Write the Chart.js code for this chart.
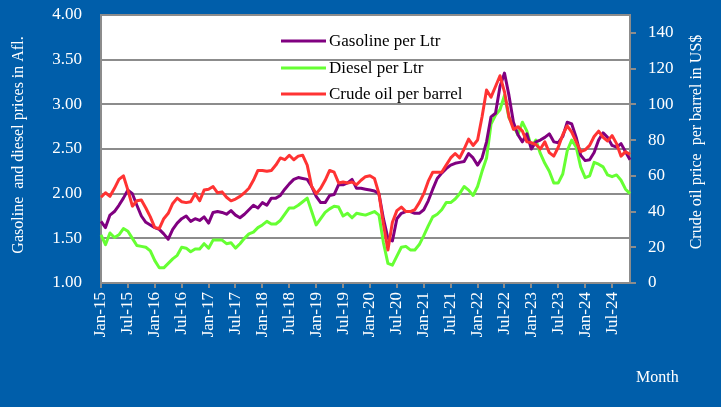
<!DOCTYPE html>
<html>
<head>
<meta charset="utf-8">
<script src="https://cdn.jsdelivr.net/npm/chart.js@4.4.1/dist/chart.umd.min.js"></script>
<style>
  html, body { margin: 0; padding: 0; background: #005eaa; }
  canvas { display: block; }
</style>
</head>
<body>
<canvas id="myChart" width="721" height="407"></canvas>
<script>
// monthly data, Jan-15 .. Nov-24 (one row per year)
var gasoline = [
    1.69, 1.62, 1.76, 1.80, 1.87, 1.95, 2.04, 2.00, 1.87, 1.75, 1.68, 1.65,
    1.62, 1.60, 1.55, 1.49, 1.60, 1.67, 1.72, 1.75, 1.69, 1.72, 1.70, 1.74,
    1.67, 1.79, 1.80, 1.79, 1.77, 1.81, 1.76, 1.73, 1.77, 1.82, 1.87, 1.84,
    1.90, 1.87, 1.95, 1.95, 1.98, 2.05, 2.11, 2.16, 2.18, 2.17, 2.16, 2.08,
    1.97, 1.90, 1.90, 1.98, 1.99, 2.10, 2.10, 2.12, 2.16, 2.06, 2.06, 2.05,
    2.04, 2.03, 2.00, 1.72, 1.50, 1.47, 1.72, 1.78, 1.80, 1.80, 1.78, 1.78,
    1.82, 1.92, 2.05, 2.17, 2.23, 2.28, 2.32, 2.34, 2.35, 2.36, 2.45, 2.40,
    2.32, 2.40, 2.58, 2.86, 2.90, 3.20, 3.35, 3.10, 2.80, 2.66, 2.58, 2.67,
    2.50, 2.58, 2.60, 2.63, 2.67, 2.58, 2.57, 2.64, 2.80, 2.78, 2.63, 2.43,
    2.37, 2.38, 2.46, 2.60, 2.68, 2.63, 2.54, 2.52, 2.56, 2.47, 2.38
];
var diesel = [
    1.54, 1.43, 1.56, 1.51, 1.54, 1.61, 1.58, 1.50, 1.42, 1.41, 1.40, 1.36,
    1.25, 1.17, 1.17, 1.22, 1.27, 1.31, 1.40, 1.39, 1.35, 1.38, 1.38, 1.44,
    1.39, 1.48, 1.48, 1.48, 1.44, 1.45, 1.39, 1.44, 1.50, 1.55, 1.57, 1.62,
    1.65, 1.69, 1.66, 1.66, 1.70, 1.77, 1.84, 1.84, 1.87, 1.91, 1.95, 1.80,
    1.65, 1.72, 1.79, 1.83, 1.86, 1.85, 1.75, 1.78, 1.73, 1.78, 1.77, 1.76,
    1.78, 1.80, 1.76, 1.45, 1.22, 1.20, 1.30, 1.40, 1.41, 1.37, 1.37, 1.43,
    1.53, 1.64, 1.74, 1.77, 1.82, 1.90, 1.90, 1.94, 2.00, 2.08, 2.04, 1.98,
    2.08, 2.25, 2.40, 2.78, 2.88, 2.94, 3.10, 2.85, 2.76, 2.66, 2.80, 2.70,
    2.52, 2.60, 2.45, 2.34, 2.25, 2.12, 2.12, 2.22, 2.48, 2.60, 2.52, 2.30,
    2.18, 2.20, 2.35, 2.33, 2.30, 2.21, 2.19, 2.21, 2.15, 2.05, 2.00
];
var crude = [
    48, 50.5, 48.5, 53, 58, 60, 52, 43, 46, 46.5, 42, 37,
    31, 30.5, 36, 39, 44.5, 47.5, 45.5, 45, 45.5, 50, 46, 52,
    52.5, 54, 50.5, 51, 48, 46, 47, 48.5, 50.5, 53, 57.5, 63,
    63, 62.5, 63, 66, 70, 69, 71.5, 69, 71, 71.5, 66, 54,
    50, 53, 57.5, 63, 62, 56, 56.5, 56, 56.5, 55, 57.5, 59.5,
    60, 58.5, 50, 33, 18.5, 34, 40.5, 42.5, 40, 40, 41, 45,
    50, 57, 62, 62, 62, 66, 70, 72.5, 70, 75, 80.5, 77,
    80, 93, 108, 104, 110, 116, 107, 93, 86, 87.5, 85, 79,
    78.5, 77.5, 75, 79, 73, 71, 76, 83, 88, 84.5, 79, 73.5,
    74.5, 77, 82, 85, 81.5, 79.5, 82.5, 78, 71, 73.5, 72
];
var seriesNames = ["Gasoline per Ltr", "Diesel per Ltr", "Crude oil per barrel"];
var seriesColors = ["#800080", "#66ff33", "#ff3333"];
var monthNames = ["Jan", "Feb", "Mar", "Apr", "May", "Jun", "Jul", "Aug", "Sep", "Oct", "Nov", "Dec"];
var leftTicks = [1, 1.5, 2, 2.5, 3, 3.5, 4];
var rightTicks = [0, 20, 40, 60, 80, 100, 120, 140];

var labels = [];
for (var yr = 15; yr <= 24; yr++) {
    for (var m = 0; m < 12; m++) labels.push(monthNames[m] + "-" + yr);
}
labels.length = gasoline.length;

var BLUE = "#005eaa";
var GRID = "#8c8c8c";
var SERIF = "'Liberation Serif', 'Times New Roman', serif";

// background, plot area, axis titles and legend
var decor = {
    id: 'decor',
    beforeDraw: function (chart) {
        var ctx = chart.ctx, a = chart.chartArea;
        ctx.save();
        ctx.fillStyle = BLUE;
        ctx.fillRect(0, 0, chart.width, chart.height);
        ctx.fillStyle = "#ffffff";
        ctx.fillRect(a.left, a.top, a.right - a.left, a.bottom - a.top);
        ctx.restore();
    },
    afterDraw: function (chart) {
        var ctx = chart.ctx;
        ctx.save();
        ctx.fillStyle = "#ffffff";
        ctx.font = "16px " + SERIF;
        ctx.textAlign = "center";
        ctx.textBaseline = "middle";

        ctx.save();
        ctx.translate(19, 145);
        ctx.rotate(-Math.PI / 2);
        ctx.fillText("Gasoline  and diesel prices in Afl.", 0, 0);
        ctx.restore();

        ctx.save();
        ctx.translate(697, 142);
        ctx.rotate(-Math.PI / 2);
        ctx.fillText("Crude oil price  per barrel in US$", 0, 0);
        ctx.restore();

        ctx.textAlign = "left";
        ctx.fillText("Month", 636, 378);

        // legend inside the plot
        var rows = [41, 68, 94];
        ctx.font = "17px " + SERIF;
        for (var i = 0; i < seriesNames.length; i++) {
            ctx.strokeStyle = seriesColors[i];
            ctx.lineWidth = 3;
            ctx.beginPath();
            ctx.moveTo(281, rows[i]);
            ctx.lineTo(326, rows[i]);
            ctx.stroke();
            ctx.fillStyle = "#000000";
            ctx.fillText(seriesNames[i], 329, rows[i] + 1);
        }
        ctx.restore();
    }
};

function fixWidth(w) {
    return function (scale) {
        scale.width = w;
        scale.paddingTop = 0;
        scale.paddingBottom = 0;
    };
}

function useTicks(list) {
    return function (scale) {
        scale.ticks = list.map(function (v) { return { value: v }; });
    };
}

new Chart("myChart", {
    type: "line",
    data: {
        labels: labels,
        datasets: [{
            label: seriesNames[0],
            data: gasoline,
            borderColor: seriesColors[0],
            yAxisID: 'yL',
            order: 1
        }, {
            label: seriesNames[1],
            data: diesel,
            borderColor: seriesColors[1],
            yAxisID: 'yL',
            order: 2
        }, {
            label: seriesNames[2],
            data: crude,
            borderColor: seriesColors[2],
            yAxisID: 'yR',
            order: 0
        }]
    },
    options: {
        responsive: false,
        devicePixelRatio: 1,
        animation: false,
        layout: { padding: { top: 15, left: 0, right: 0, bottom: 0 } },
        elements: {
            line: { borderWidth: 3, tension: 0, borderJoinStyle: 'round' },
            point: { radius: 0 }
        },
        plugins: {
            legend: { display: false },
            tooltip: { enabled: false }
        },
        scales: {
            x: {
                type: 'category',
                offset: false,
                grid: { drawOnChartArea: false, color: GRID, lineWidth: 2, tickLength: 5 },
                border: { color: GRID, width: 2 },
                ticks: {
                    autoSkip: false,
                    minRotation: 90,
                    maxRotation: 90,
                    padding: 4,
                    color: "#ffffff",
                    font: { family: SERIF, size: 17 }
                },
                afterBuildTicks: function (scale) {
                    scale.ticks = scale.ticks.filter(function (t) { return t.value % 6 === 0; });
                },
                afterFit: function (scale) {
                    scale.height = 124;
                    scale.paddingLeft = 0;
                    scale.paddingRight = 0;
                }
            },
            yL: {
                position: 'left',
                min: 1,
                max: 4,
                grid: { color: GRID, lineWidth: 2, drawTicks: false },
                border: { color: GRID, width: 2 },
                ticks: {
                    padding: 19,
                    color: "#ffffff",
                    font: { family: SERIF, size: 17 },
                    callback: function (v) { return v.toFixed(2); }
                },
                afterBuildTicks: useTicks(leftTicks),
                afterFit: fixWidth(101)
            },
            yR: {
                position: 'right',
                min: 0,
                max: 150,
                grid: { drawOnChartArea: false, color: GRID, lineWidth: 2, tickLength: 6 },
                border: { color: GRID, width: 2 },
                ticks: {
                    padding: 12,
                    color: "#ffffff",
                    font: { family: SERIF, size: 17 }
                },
                afterBuildTicks: useTicks(rightTicks),
                afterFit: fixWidth(91)
            }
        }
    },
    plugins: [decor]
});
</script>
</body>
</html>
